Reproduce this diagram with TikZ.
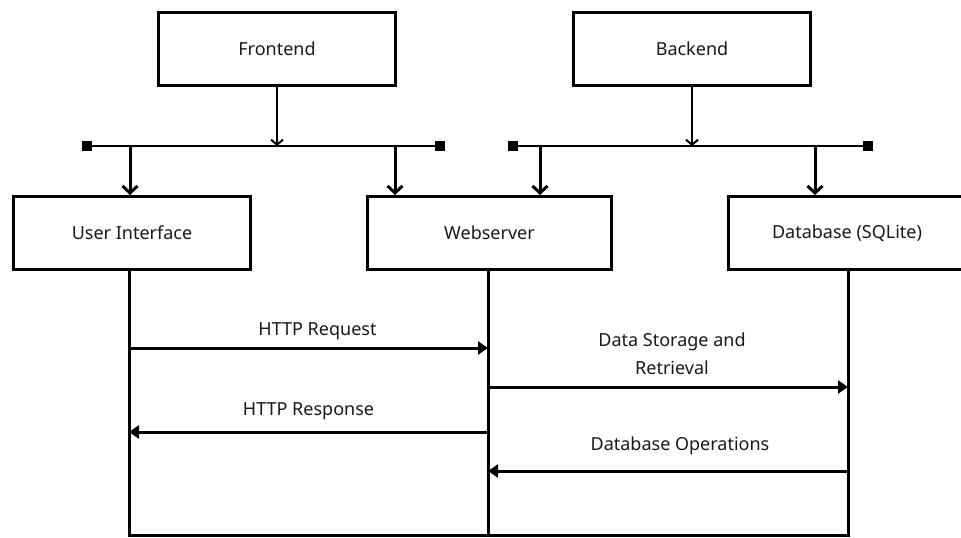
\documentclass[tikz,border=0pt]{standalone}
\usepackage{fontspec}
\setmainfont{Noto Sans}
\usetikzlibrary{positioning, arrows.meta}

\begin{document}
\begin{tikzpicture}[
      x=1pt, y=-1pt,
      node distance=114pt,
      block/.style={draw, line width=3pt, minimum width=237pt, minimum height=73pt,
         font=\fontsize{18}{22}\selectfont, text=black!90},
      busend/.style={fill, minimum size=10pt, inner sep=0pt},
      bus/.style={line width=2.5pt},
      feed/.style={line width=2pt, -{Straight Barb[length=5pt,width=12pt]}},
      branch/.style={line width=3pt, -{Straight Barb[length=7pt,width=15pt]}},
      life/.style={line width=3pt, line join=miter},
      msg/.style={line width=3pt, -{Triangle[length=10pt,width=13pt]}},
      msglabel/.style={font=\fontsize{18}{28}\selectfont, text=black!90, align=center}
   ]
   \useasboundingbox (0,0) rectangle (961,538);

   % Top level parts
   \node[block] (front) at (277,49) {Frontend};
   \node[block] (back) at (692,49) {Backend};

   % Components
   \node[block] (ui) at (132,233) {User Interface};
   \node[block, minimum width=244pt] (ws) [right=of ui] {Webserver};
   \node[block] (db) [right=of ws] {Database (SQLite)};

   % Buses
   \node[busend] (fend-l) at (87,146) {};
   \node[busend] (fend-r) at (440,146) {};
   \node[busend] (bend-l) at (513,146) {};
   \node[busend] (bend-r) at (868,146) {};
   \draw[bus] (fend-l) -- (fend-r);
   \draw[bus] (bend-l) -- (bend-r);
   \draw[feed] (front) -- (front |- fend-l);
   \draw[feed] (back) -- (back |- bend-l);

   % Branches down to the components
   \coordinate (fb-ui) at (130,146);
   \coordinate (fb-ws) at (395,146);
   \coordinate (bb-ws) at (540,146);
   \coordinate (bb-db) at (815,146);
   \draw[branch] (fb-ui) -- (fb-ui |- ui.north);
   \draw[branch] (fb-ws) -- (fb-ws |- ws.north);
   \draw[branch] (bb-ws) -- (bb-ws |- ws.north);
   \draw[branch] (bb-db) -- (bb-db |- db.north);

   % Lifelines
   \coordinate (ui-end) at (129,535);
   \coordinate (ws-end) at (488,535);
   \coordinate (db-end) at (848,535);
   \draw[life] (ui.south -| ui-end) -- (ui-end) -- (db-end) -- (db.south -| db-end);
   \draw[life] (ws.south -| ws-end) -- (ws-end);

   % Messages
   \draw[msg] (ui-end |- 0,348) -- node[msglabel, above=3pt, xshift=9pt] {HTTP Request} (ws-end |- 0,348);
   \draw[msg] (ws-end |- 0,432) -- node[msglabel, above=7pt] {HTTP Response} (ui-end |- 0,432);
   \draw[msg] (ws-end |- 0,387) -- node[msglabel, above=7pt, xshift=4pt] {Data Storage and\\Retrieval} (db-end |- 0,387);
   \draw[msg] (db-end |- 0,471) -- node[msglabel, above=11pt, xshift=12pt] {Database Operations} (ws-end |- 0,471);
\end{tikzpicture}
\end{document}
